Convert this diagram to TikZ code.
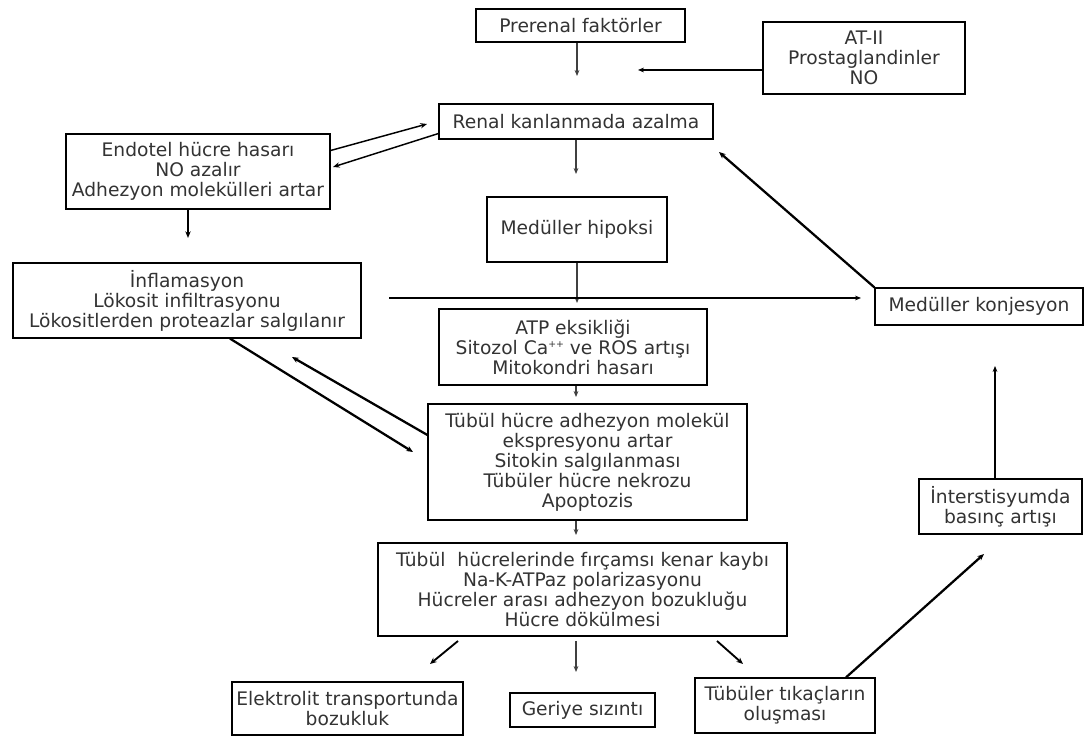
\documentclass[tikz,border=0pt]{standalone}
\usepackage{fontspec}
\setmainfont{DejaVu Sans}
\usetikzlibrary{arrows.meta}
\usetikzlibrary{calc}
\tikzset{
cause box/.style = { rectangle, draw = black, line width = 0.9pt, fill = white, align = center, inner sep = 1pt, text = black!80, font = \fontsize{14}{15}\selectfont },
thin link/.style = { draw = black!75, line width = 0.8pt, -{Stealth[length = 4.5pt, width = 3.6pt]} },
mid link/.style = { draw = black, line width = 1.1pt, -{Stealth[length = 5pt, width = 4pt]} },
thick link/.style = { draw = black, line width = 1.7pt, -{Stealth[length = 5pt, width = 4.2pt]} },
}
\newcommand{\caplus}{Ca\raisebox{0.7ex}{\fontsize{7}{7}\selectfont ++}}

\begin{document}
\begin{tikzpicture}[x = 0.75pt, y = -0.75pt]
      \useasboundingbox (0, 0) rectangle (1086, 737);
      % boxes
      \node[cause box, minimum width = 156.75pt, minimum height = 24.75pt] (prerenal) at (580.5, 25.5) {Prerenal faktörler};
      \node[cause box, minimum width = 151.5pt, minimum height = 54pt] (at) at (864, 58) {AT-II\\Prostaglandinler\\NO};
      \node[cause box, minimum width = 205.5pt, minimum height = 26.25pt] (renal) at (576, 121.5) {Renal kanlanmada azalma};
      \node[cause box, minimum width = 198pt, minimum height = 56.25pt] (endotel) at (198, 171.5) {Endotel hücre hasarı\\NO azalır\\Adhezyon molekülleri artar};
      \node[cause box, minimum width = 135pt, minimum height = 48.75pt] (hipoksi) at (577, 229.5) {Medüller hipoksi};
      \node[cause box, minimum width = 261pt, minimum height = 56.25pt] (inflam) at (187, 300.5) {İnflamasyon\\Lökosit infiltrasyonu\\Lökositlerden proteazlar salgılanır};
      \node[cause box, minimum width = 156pt, minimum height = 27.75pt] (konjesyon) at (979, 306.5) {Medüller konjesyon};
      \node[cause box, minimum width = 201pt, minimum height = 57pt] (atp) at (573, 347) {ATP eksikliği\\Sitozol \caplus{} ve ROS artışı\\Mitokondri hasarı};
      \node[cause box, minimum width = 239.25pt, minimum height = 87pt] (tubul) at (587.5, 462) {Tübül hücre adhezyon molekül\\ekspresyonu artar\\Sitokin salgılanması\\Tübüler hücre nekrozu\\Apoptozis};
      \node[cause box, minimum width = 306.75pt, minimum height = 69.75pt] (firca) at (582.5, 589.5) {Tübül\ \ hücrelerinde fırçamsı kenar kaybı\\Na-K-ATPaz polarizasyonu\\Hücreler arası adhezyon bozukluğu\\Hücre dökülmesi};
      \node[cause box, minimum width = 173.25pt, minimum height = 39.75pt] (elektrolit) at (347.5, 708.5) {Elektrolit transportunda\\bozukluk};
      \node[cause box, minimum width = 108.75pt, minimum height = 25.5pt] (geriye) at (582.5, 710) {Geriye sızıntı};
      \node[cause box, minimum width = 135pt, minimum height = 41.25pt] (tikac) at (785, 705.5) {Tübüler tıkaçların\\oluşması};
      \node[cause box, minimum width = 122.25pt, minimum height = 41.25pt] (inter) at (1000.5, 506.5) {İnterstisyumda\\basınç artışı};
      % free arrow ends
      \coordinate (prerenal tip) at (577, 76);
      \coordinate (at tip) at (638, 70);
      \coordinate (renal tip) at (427, 124);
      \coordinate (endotel tip) at (333, 167);
      \coordinate (renal down) at (576, 174);
      \coordinate (endotel down) at (188, 238);
      \coordinate (hipoksi down) at (577, 303);
      \coordinate (cross start) at (389, 298);
      \coordinate (cross tip) at (861, 298);
      \coordinate (konjesyon tip) at (719, 152);
      \coordinate (atp down) at (576, 397);
      \coordinate (inflam tip) at (413, 452);
      \coordinate (tubul tip) at (292, 357);
      \coordinate (tubul down) at (576, 535);
      \coordinate (left start) at (458, 641);
      \coordinate (left tip) at (430, 664);
      \coordinate (mid tip) at (576, 672);
      \coordinate (right start) at (717, 641);
      \coordinate (right tip) at (743, 664);
      \coordinate (tikac tip) at (984, 554);
      \coordinate (inter tip) at (995, 366);
      % links
      \draw[thin link] (prerenal tip |- prerenal.south) -- (prerenal tip);
      \draw[thin link, draw = black] (at.west |- at tip) -- (at tip);
      \draw[mid link] (endotel.9) -- (renal tip);
      \draw[mid link] (renal.185) -- (endotel tip);
      \draw[thin link] (renal down |- renal.south) -- (renal down);
      \draw[mid link] (endotel down |- endotel.south) -- (endotel down);
      \draw[thin link] (hipoksi down |- hipoksi.south) -- (hipoksi down);
      \draw[thin link, draw = black] (cross start) -- (cross tip);
      \draw[thick link] (konjesyon.north west) -- (konjesyon tip);
      \draw[thin link] (atp down |- atp.south) -- (atp down);
      \draw[thick link] ($(inflam.south) + (43, 0)$) -- (inflam tip);
      \draw[thick link] ($(tubul.west) + (0, -27)$) -- (tubul tip);
      \draw[thin link] (tubul down |- tubul.south) -- (tubul down);
      \draw[thick link, line width = 1.4pt] (left start) -- (left tip);
      \draw[thin link] (mid tip |- left start) -- (mid tip);
      \draw[thick link, line width = 1.4pt] (right start) -- (right tip);
      \draw[thick link] ($(tikac.north) + (61, 0)$) -- (tikac tip);
      \draw[thin link, line width = 1pt, draw = black] (inter tip |- inter.north) -- (inter tip);
    \end{tikzpicture}
\end{document}
